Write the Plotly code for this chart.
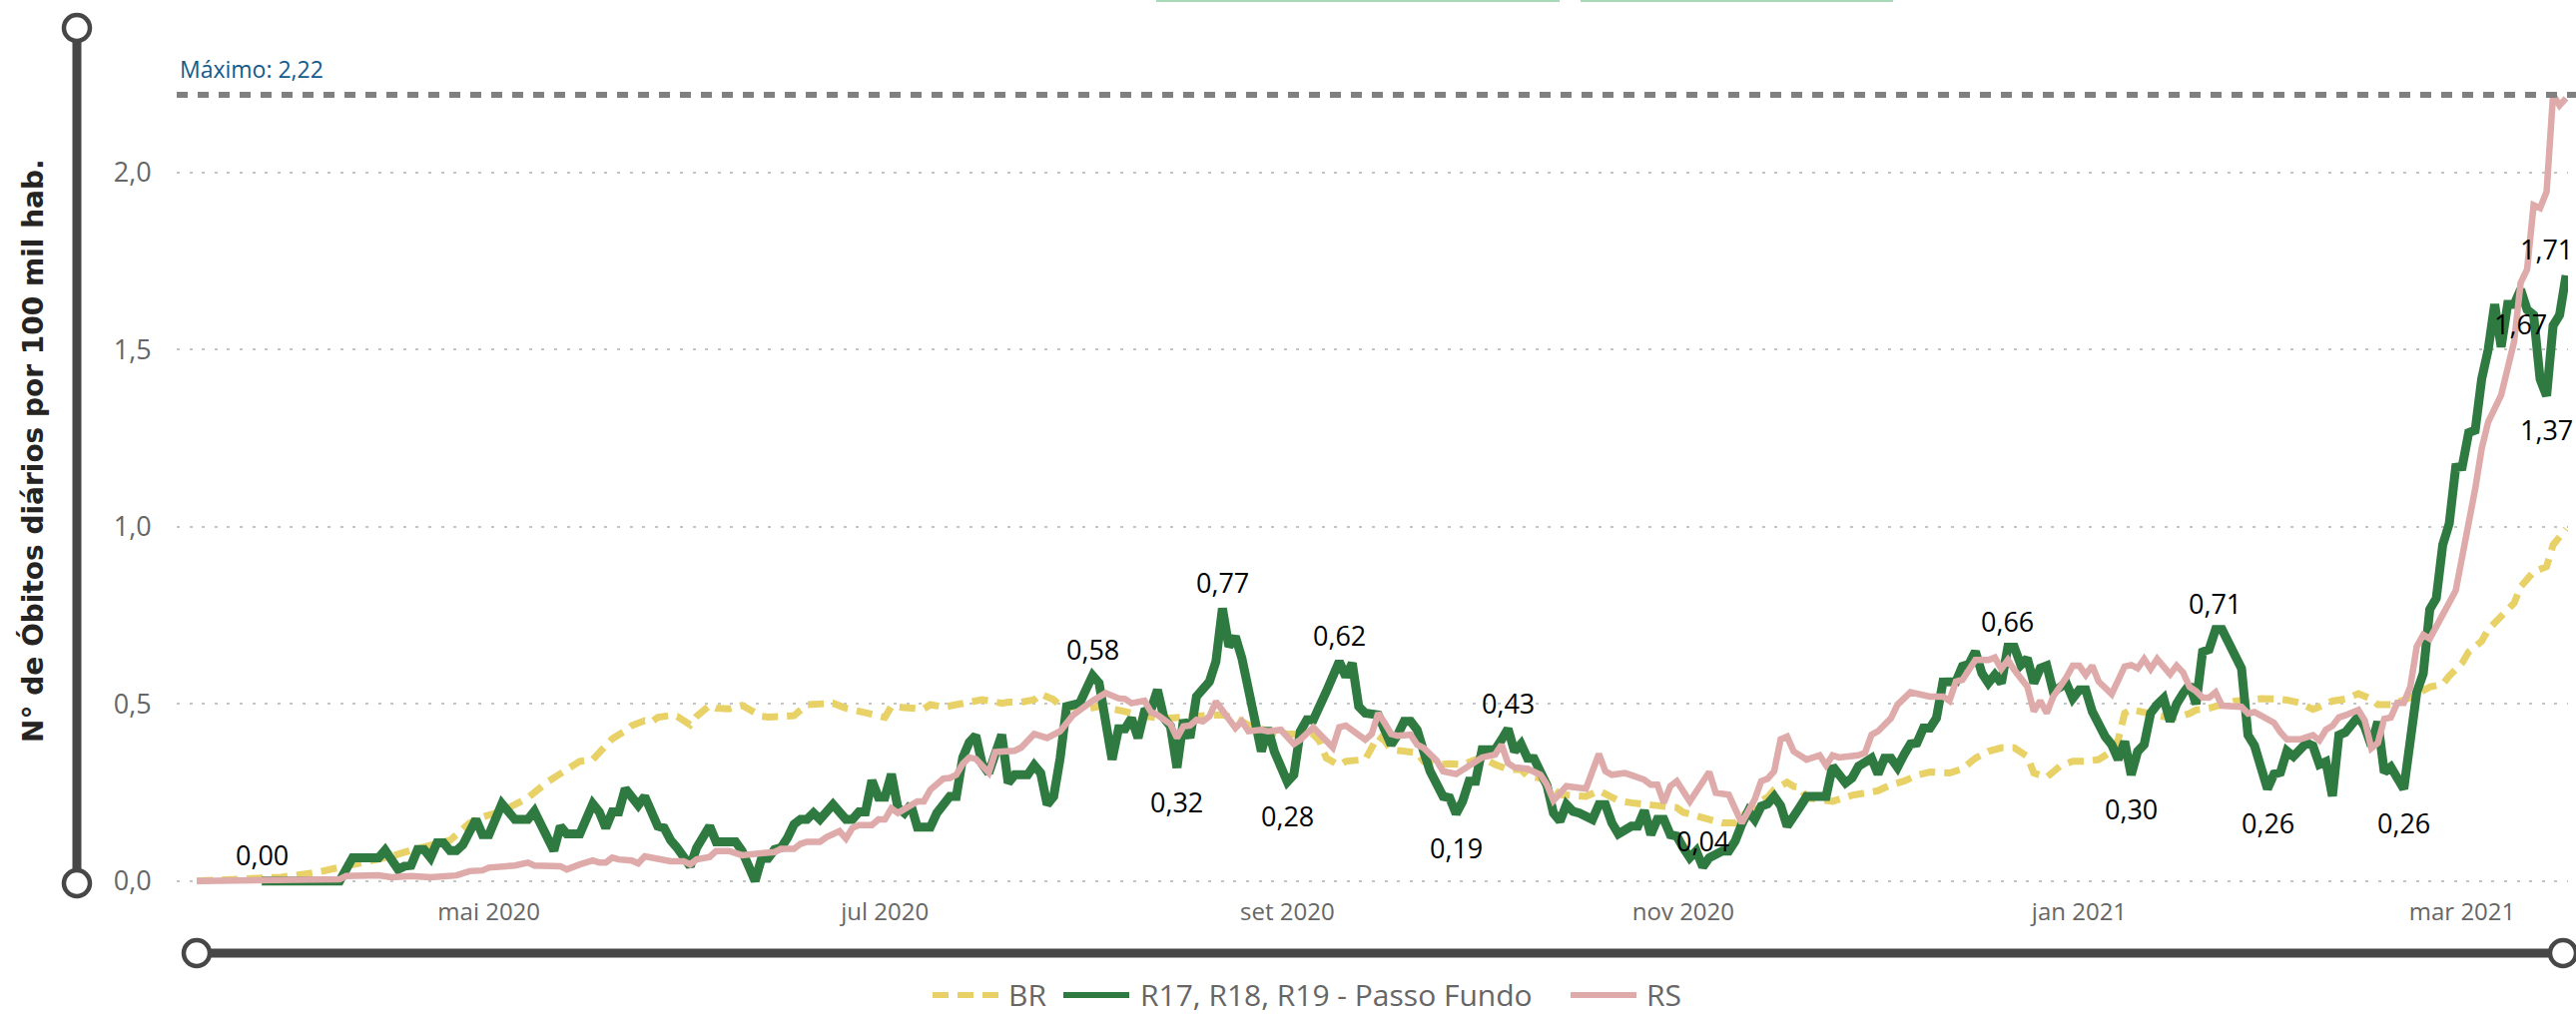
import pandas as pd
import plotly.graph_objects as go

# ---------------- data ----------------
START_DATE = "2020-03-17"   # day 0 of the series

month_ticks = ["2020-05-01", "2020-07-01", "2020-09-01", "2020-11-01", "2021-01-01", "2021-03-01"]
month_labels = ["mai 2020", "jul 2020", "set 2020", "nov 2020", "jan 2021", "mar 2021"]

y_ticks = [0, 0.5, 1.0, 1.5, 2.0]
y_tick_labels = ["0,0", "0,5", "1,0", "1,5", "2,0"]

# BR (days since START_DATE, value)
br_day = [0, 8, 13, 18, 22, 24, 27, 30, 33, 36, 39, 42, 44, 47, 51, 54, 55, 58, 59, 61, 62, 64, 66, 67, 69, 70,
          71, 73, 74, 76, 77, 79, 80, 82, 84, 85, 87, 88, 90, 92, 94, 96, 98, 100, 102, 103, 104, 106, 107, 109,
          112, 113, 115, 117, 119, 121, 122, 124, 125, 127, 129, 130, 132, 133, 135, 137, 139, 141, 143, 145, 146,
          148, 150, 152, 154, 156, 158, 160, 162, 164, 166, 168, 170, 172, 173, 174, 176, 177, 178, 180, 182, 183,
          184, 186, 188, 189, 191, 193, 195, 197, 198, 200, 202, 204, 205, 207, 209, 210, 212, 214, 216, 217, 219,
          221, 223, 226, 228, 229, 231, 233, 235, 237, 238, 240, 242, 243, 245, 246, 247, 248, 250, 252, 255, 258,
          259, 261, 263, 265, 267, 270, 272, 274, 276, 278, 280, 282, 283, 285, 287, 289, 291, 293, 295, 296, 297,
          298, 300, 302, 304, 305, 307, 308, 310, 312, 314, 316, 318, 320, 322, 324, 326, 327, 329, 331, 333, 335,
          336, 338, 340, 341, 344, 346, 347, 349, 350, 352, 353, 355, 357, 358, 360, 362, 363, 365]
br_val = [0.000, 0.005, 0.011, 0.023, 0.038, 0.047, 0.054, 0.070, 0.087, 0.099, 0.115, 0.164, 0.181, 0.197, 0.235,
          0.280, 0.291, 0.327, 0.338, 0.343, 0.362, 0.402, 0.424, 0.439, 0.453, 0.449, 0.462, 0.468, 0.465, 0.441,
          0.465, 0.496, 0.488, 0.486, 0.496, 0.484, 0.465, 0.463, 0.467, 0.467, 0.498, 0.500, 0.502, 0.488, 0.481,
          0.479, 0.471, 0.462, 0.493, 0.490, 0.486, 0.498, 0.491, 0.498, 0.507, 0.512, 0.509, 0.502, 0.505, 0.505,
          0.512, 0.528, 0.512, 0.496, 0.490, 0.486, 0.493, 0.488, 0.479, 0.469, 0.465, 0.460, 0.460, 0.463, 0.468,
          0.468, 0.469, 0.460, 0.441, 0.427, 0.418, 0.415, 0.413, 0.415, 0.394, 0.347, 0.327, 0.338, 0.340, 0.343,
          0.410, 0.396, 0.371, 0.368, 0.362, 0.338, 0.329, 0.331, 0.329, 0.343, 0.349, 0.329, 0.315, 0.315, 0.296,
          0.291, 0.258, 0.244, 0.242, 0.239, 0.255, 0.244, 0.227, 0.221, 0.218, 0.214, 0.207, 0.194, 0.183, 0.174,
          0.164, 0.164, 0.183, 0.216, 0.237, 0.258, 0.279, 0.267, 0.265, 0.235, 0.230, 0.225, 0.242, 0.252, 0.255,
          0.272, 0.282, 0.299, 0.308, 0.305, 0.317, 0.347, 0.366, 0.376, 0.376, 0.352, 0.305, 0.293, 0.324, 0.338,
          0.338, 0.343, 0.366, 0.399, 0.474, 0.484, 0.474, 0.469, 0.460, 0.462, 0.473, 0.483, 0.488, 0.498, 0.508,
          0.511, 0.515, 0.514, 0.511, 0.503, 0.485, 0.492, 0.508, 0.514, 0.529, 0.514, 0.498, 0.498, 0.514, 0.518,
          0.548, 0.556, 0.579, 0.616, 0.647, 0.677, 0.710, 0.749, 0.785, 0.831, 0.873, 0.888, 0.949, 0.994]

# R17, R18, R19 - Passo Fundo
pf_day = [10, 22, 24, 28, 29, 31, 32, 33, 34, 35, 36, 37, 38, 39, 40, 41, 43, 44, 45, 47, 49, 51, 52, 54, 55, 56, 57,
          59, 61, 62, 63, 64, 65, 66, 68, 69, 71, 72, 73, 74, 76, 77, 79, 80, 83, 84, 86, 87, 88, 89, 90, 91, 92, 93,
          94, 95, 96, 98, 100, 101, 102, 103, 104, 105, 106, 107, 108, 109, 110, 111, 113, 114, 116, 117, 118, 119,
          120, 121, 122, 124, 125, 126, 128, 129, 130, 131, 132, 133, 134, 136, 138, 139, 141, 142, 143, 144, 145,
          146, 147, 148, 149, 150, 151, 152, 153, 154, 155, 156, 157, 158, 159, 160, 161, 162, 163, 164, 165, 166,
          168, 169, 170, 171, 172, 174, 176, 177, 178, 179, 180, 182, 184, 185, 186, 187, 188, 189, 190, 192, 193,
          194, 195, 196, 197, 198, 200, 201, 202, 203, 204, 205, 206, 207, 208, 209, 210, 211, 212, 213, 215, 216,
          217, 218, 219, 221, 222, 223, 224, 225, 226, 227, 228, 229, 230, 231, 232, 233, 235, 236, 237, 238, 239,
          240, 241, 242, 243, 244, 245, 247, 248, 251, 252, 254, 255, 256, 258, 259, 260, 261, 262, 263, 264, 265,
          266, 267, 268, 269, 271, 272, 273, 274, 275, 276, 277, 278, 279, 280, 281, 282, 283, 284, 285, 286, 288,
          289, 290, 291, 292, 294, 295, 296, 297, 298, 299, 300, 301, 302, 303, 304, 305, 306, 307, 308, 309, 310,
          311, 312, 314, 315, 316, 317, 319, 320, 321, 322, 323, 324, 325, 326, 327, 328, 329, 330, 331, 333, 334,
          335, 336, 337, 338, 340, 341, 342, 343, 344, 345, 346, 347, 348, 349, 350, 351, 352, 353, 354, 355, 356,
          357, 358, 359, 360, 361, 362, 363, 364, 365]
pf_val = [0.000, 0.000, 0.066, 0.066, 0.087, 0.033, 0.042, 0.044, 0.089, 0.089, 0.066, 0.108, 0.108, 0.086, 0.086,
          0.103, 0.174, 0.131, 0.131, 0.218, 0.174, 0.174, 0.197, 0.113, 0.086, 0.155, 0.133, 0.133, 0.218, 0.195,
          0.150, 0.195, 0.195, 0.261, 0.214, 0.239, 0.155, 0.150, 0.115, 0.094, 0.042, 0.094, 0.155, 0.111, 0.111,
          0.085, 0.000, 0.064, 0.064, 0.089, 0.094, 0.122, 0.160, 0.174, 0.174, 0.192, 0.174, 0.216, 0.174, 0.174,
          0.195, 0.195, 0.284, 0.237, 0.237, 0.302, 0.207, 0.192, 0.216, 0.152, 0.152, 0.192, 0.239, 0.239, 0.349,
          0.392, 0.411, 0.330, 0.305, 0.413, 0.277, 0.300, 0.300, 0.327, 0.305, 0.216, 0.239, 0.347, 0.493, 0.502,
          0.580, 0.559, 0.343, 0.430, 0.430, 0.460, 0.404, 0.479, 0.484, 0.540, 0.460, 0.437, 0.320, 0.455, 0.404,
          0.521, 0.545, 0.563, 0.620, 0.770, 0.662, 0.690, 0.629, 0.554, 0.455, 0.366, 0.432, 0.366, 0.280, 0.300,
          0.423, 0.455, 0.455, 0.535, 0.620, 0.577, 0.615, 0.493, 0.474, 0.469, 0.385, 0.413, 0.451, 0.451, 0.427,
          0.366, 0.310, 0.239, 0.235, 0.190, 0.225, 0.282, 0.282, 0.371, 0.371, 0.399, 0.430, 0.366, 0.387, 0.347,
          0.346, 0.308, 0.270, 0.192, 0.169, 0.216, 0.197, 0.192, 0.174, 0.216, 0.216, 0.164, 0.133, 0.155, 0.155,
          0.199, 0.131, 0.174, 0.174, 0.131, 0.127, 0.094, 0.066, 0.085, 0.040, 0.066, 0.085, 0.085, 0.113, 0.160,
          0.197, 0.174, 0.211, 0.218, 0.239, 0.213, 0.155, 0.210, 0.239, 0.239, 0.324, 0.277, 0.291, 0.324, 0.347,
          0.302, 0.347, 0.347, 0.321, 0.357, 0.387, 0.390, 0.432, 0.432, 0.460, 0.562, 0.563, 0.606, 0.612, 0.648,
          0.587, 0.559, 0.582, 0.559, 0.660, 0.660, 0.610, 0.629, 0.559, 0.601, 0.608, 0.535, 0.559, 0.516, 0.540,
          0.540, 0.479, 0.408, 0.385, 0.343, 0.394, 0.300, 0.366, 0.385, 0.474, 0.498, 0.516, 0.451, 0.500, 0.530,
          0.555, 0.500, 0.647, 0.654, 0.710, 0.710, 0.628, 0.600, 0.412, 0.382, 0.260, 0.302, 0.307, 0.367, 0.352,
          0.375, 0.390, 0.382, 0.329, 0.337, 0.240, 0.412, 0.420, 0.465, 0.435, 0.382, 0.450, 0.307, 0.322, 0.260,
          0.412, 0.533, 0.586, 0.767, 0.798, 0.949, 1.009, 1.168, 1.170, 1.266, 1.273, 1.417, 1.500, 1.628, 1.508,
          1.628, 1.628, 1.670, 1.613, 1.598, 1.417, 1.370, 1.568, 1.598, 1.710]

# RS
rs_day = [0, 22, 23, 28, 30, 33, 36, 40, 42, 44, 45, 49, 51, 52, 56, 57, 59, 61, 62, 63, 64, 65, 67, 68, 69, 71, 73,
          75, 76, 77, 79, 80, 82, 84, 86, 87, 89, 90, 92, 93, 94, 96, 97, 99, 100, 101, 102, 104, 105, 106, 107, 108,
          109, 111, 112, 113, 115, 116, 117, 118, 119, 120, 122, 123, 124, 126, 127, 129, 131, 133, 135, 137, 138,
          140, 142, 143, 144, 146, 147, 148, 149, 150, 151, 152, 153, 154, 155, 156, 157, 159, 160, 161, 162, 164,
          165, 167, 169, 170, 171, 172, 175, 176, 177, 180, 181, 182, 183, 184, 185, 187, 188, 189, 191, 192, 194,
          196, 197, 198, 200, 201, 202, 203, 205, 207, 208, 209, 211, 213, 214, 216, 217, 218, 220, 221, 223, 224,
          225, 226, 227, 228, 229, 230, 233, 234, 236, 237, 238, 240, 241, 242, 243, 244, 245, 246, 247, 248, 250,
          251, 252, 253, 256, 257, 258, 259, 261, 262, 264, 266, 267, 269, 270, 271, 272, 273, 274, 276, 277, 278,
          279, 280, 282, 283, 284, 285, 286, 288, 289, 290, 291, 292, 293, 295, 297, 298, 299, 300, 301, 302, 303,
          304, 305, 306, 307, 308, 309, 310, 311, 312, 315, 316, 317, 319, 320, 321, 322, 324, 325, 326, 327, 328,
          329, 330, 331, 333, 334, 335, 336, 337, 338, 339, 340, 341, 342, 343, 344, 345, 346, 348, 349, 350, 351,
          352, 353, 355, 356, 357, 358, 359, 360, 361, 362, 363, 364, 365]
rs_val = [0.000, 0.005, 0.014, 0.016, 0.011, 0.014, 0.011, 0.016, 0.028, 0.030, 0.038, 0.044, 0.052, 0.044, 0.042,
          0.033, 0.047, 0.058, 0.052, 0.052, 0.066, 0.061, 0.058, 0.050, 0.070, 0.064, 0.056, 0.056, 0.047, 0.061,
          0.068, 0.085, 0.085, 0.073, 0.077, 0.080, 0.082, 0.091, 0.091, 0.105, 0.111, 0.111, 0.124, 0.141, 0.120,
          0.150, 0.158, 0.158, 0.174, 0.174, 0.205, 0.192, 0.202, 0.225, 0.225, 0.258, 0.289, 0.291, 0.300, 0.331,
          0.349, 0.345, 0.306, 0.364, 0.366, 0.368, 0.377, 0.415, 0.404, 0.423, 0.469, 0.498, 0.509, 0.531, 0.516,
          0.514, 0.502, 0.509, 0.477, 0.469, 0.455, 0.443, 0.404, 0.437, 0.439, 0.455, 0.451, 0.465, 0.507, 0.455,
          0.432, 0.451, 0.423, 0.427, 0.423, 0.427, 0.387, 0.399, 0.415, 0.434, 0.377, 0.434, 0.439, 0.399, 0.415,
          0.474, 0.446, 0.415, 0.410, 0.413, 0.385, 0.376, 0.340, 0.310, 0.302, 0.324, 0.340, 0.349, 0.357, 0.385,
          0.333, 0.321, 0.317, 0.300, 0.272, 0.227, 0.268, 0.265, 0.261, 0.359, 0.310, 0.300, 0.305, 0.299, 0.286,
          0.272, 0.272, 0.221, 0.268, 0.282, 0.249, 0.225, 0.308, 0.249, 0.244, 0.202, 0.164, 0.230, 0.282, 0.289,
          0.310, 0.400, 0.408, 0.366, 0.355, 0.343, 0.355, 0.327, 0.355, 0.349, 0.355, 0.362, 0.413, 0.423, 0.460,
          0.498, 0.533, 0.528, 0.521, 0.521, 0.509, 0.563, 0.568, 0.596, 0.624, 0.624, 0.631, 0.599, 0.624, 0.596,
          0.549, 0.479, 0.509, 0.474, 0.521, 0.575, 0.608, 0.608, 0.582, 0.608, 0.563, 0.528, 0.606, 0.610, 0.601,
          0.627, 0.599, 0.627, 0.603, 0.584, 0.608, 0.589, 0.548, 0.536, 0.518, 0.518, 0.533, 0.495, 0.492, 0.473,
          0.477, 0.458, 0.447, 0.420, 0.400, 0.400, 0.408, 0.412, 0.397, 0.427, 0.438, 0.462, 0.468, 0.483, 0.453,
          0.375, 0.390, 0.458, 0.462, 0.503, 0.503, 0.548, 0.662, 0.695, 0.684, 0.715, 0.752, 0.820, 0.911, 1.024,
          1.107, 1.221, 1.296, 1.372, 1.440, 1.523, 1.689, 1.727, 1.908, 1.900, 1.946, 2.220, 2.190, 2.210]

# data labels shown on the Passo Fundo series (day, side)
label_day = [10, 138, 151, 158, 168, 176, 194, 202, 232, 279, 298, 311, 319, 340, 358, 362, 365]
label_side = ["above", "above", "below", "above", "below", "above", "below", "above", "above", "above",
              "below", "above", "below", "below", "below", "below", "above"]

# ---------------- styling / geometry ----------------
FIG_W, FIG_H = 2580, 1018
PLOT_L, PLOT_R, PLOT_T, PLOT_B = 177, 2572, 31, 897
Y_MIN, Y_MAX = -0.04, 2.4
X_PAD_L, X_PAD_R = 3.1, 0.3

COL_BR = "#E8D166"
COL_PF = "#2F7A40"
COL_RS = "#DEAAAA"
COL_SLIDER = "#474747"
FONT_UI = "Segoe UI, Open Sans, sans-serif"

start = pd.Timestamp(START_DATE)


def to_dates(days):
    return [(start + pd.Timedelta(days=d)).strftime("%Y-%m-%d") for d in days]


def px(x):
    return (x - PLOT_L) / (PLOT_R - PLOT_L)


def py(y):
    return (PLOT_B - y) / (PLOT_B - PLOT_T)


def fmt(v):
    return f"{v:.2f}".replace(".", ",")


series = [
    dict(name="BR", days=br_day, vals=br_val, color=COL_BR, width=7, dash="16px,9px"),
    dict(name="R17, R18, R19 - Passo Fundo", days=pf_day, vals=pf_val, color=COL_PF, width=9, dash="solid"),
    dict(name="RS", days=rs_day, vals=rs_val, color=COL_RS, width=6.5, dash="solid"),
]

fig = go.Figure()
for s in series:
    fig.add_trace(go.Scatter(
        x=to_dates(s["days"]), y=s["vals"], mode="lines", name=s["name"],
        line=dict(color=s["color"], width=s["width"], dash=s["dash"]),
        showlegend=False, hoverinfo="skip",
    ))

x_range = [(start - pd.Timedelta(days=X_PAD_L)).strftime("%Y-%m-%d %H:%M"),
           (start + pd.Timedelta(days=max(pf_day) + X_PAD_R)).strftime("%Y-%m-%d %H:%M")]

max_val = max(max(br_val), max(pf_val), max(rs_val))

shapes = []
# max reference line
shapes.append(dict(type="line", xref="paper", yref="y", x0=0, x1=px(FIG_W), y0=max_val, y1=max_val,
                   line=dict(color="#808080", width=6, dash="11px,10px"), layer="above"))
# slider decorations
shapes.append(dict(type="line", xref="paper", yref="paper", x0=px(77), x1=px(77), y0=py(28), y1=py(885),
                   line=dict(color=COL_SLIDER, width=9)))
shapes.append(dict(type="line", xref="paper", yref="paper", x0=px(197), x1=px(2567), y0=py(955), y1=py(955),
                   line=dict(color=COL_SLIDER, width=9)))
for cx, cy in [(77, 28), (77, 885), (197, 955), (2567, 955)]:
    shapes.append(dict(type="circle", xref="paper", yref="paper", xsizemode="pixel", ysizemode="pixel",
                       xanchor=px(cx), yanchor=py(cy), x0=-13, x1=13, y0=-13, y1=13,
                       line=dict(color=COL_SLIDER, width=4.5), fillcolor="white", layer="above"))
# thin green strips at the top edge
for a, b in [(1158, 1562), (1583, 1896)]:
    shapes.append(dict(type="line", xref="paper", yref="paper", x0=px(a), x1=px(b), y0=py(1), y1=py(1),
                       line=dict(color="#A8D8B8", width=2)))

annotations = []
annotations.append(dict(text="<b>N° de Óbitos diários por 100 mil hab.</b>", xref="paper", yref="paper",
                        x=px(33), y=py(452), textangle=-90, showarrow=False,
                        font=dict(family="DejaVu Sans", size=28, color="#252423"),
                        xanchor="center", yanchor="middle"))
annotations.append(dict(text=f"Máximo: {fmt(max_val)}", xref="paper", yref="y", x=px(178), y=max_val,
                        yshift=26, xanchor="left", yanchor="middle", showarrow=False,
                        font=dict(family=FONT_UI, size=23, color="#125B8C")))
for i, (d, side) in enumerate(zip(label_day, label_side)):
    v = pf_val[pf_day.index(d)]
    annotations.append(dict(text=fmt(v), x=to_dates([d])[0], y=v, xref="x", yref="y", showarrow=False,
                            xanchor="center", yanchor="middle",
                            yshift=26 if side == "above" else -34,
                            xshift=-20 if d == max(pf_day) else 0,
                            font=dict(family=FONT_UI, size=27, color="#000000")))

# custom legend (long symbols like the original)
legend_sym_x = [934, 1065, 1573]
legend_txt_x = [1008, 1140, 1647]
LEG_Y = 997
for s, sx, tx in zip(series, legend_sym_x, legend_txt_x):
    shapes.append(dict(type="line", xref="paper", yref="paper", x0=px(sx), x1=px(sx + 66), y0=py(LEG_Y),
                       y1=py(LEG_Y), line=dict(color=s["color"], width=6, dash=s["dash"])))
    annotations.append(dict(text=s["name"], xref="paper", yref="paper", x=px(tx), y=py(LEG_Y),
                            xanchor="left", yanchor="middle", showarrow=False,
                            font=dict(family=FONT_UI, size=30, color="#666666")))

fig.update_layout(
    width=FIG_W, height=FIG_H,
    margin=dict(l=PLOT_L, r=FIG_W - PLOT_R, t=PLOT_T, b=FIG_H - PLOT_B, pad=0),
    paper_bgcolor="white", plot_bgcolor="white",
    font=dict(family=FONT_UI, color="#666666"),
    showlegend=False,
    shapes=shapes, annotations=annotations,
    xaxis=dict(type="date", range=x_range, tickvals=month_ticks, ticktext=month_labels,
               showgrid=False, zeroline=False, showline=False, ticks="",
               tickfont=dict(family=FONT_UI, size=24, color="#666666")),
    yaxis=dict(range=[Y_MIN, Y_MAX], tickvals=y_ticks, ticktext=y_tick_labels,
               showgrid=True, gridcolor="#C4C4C4", gridwidth=2, griddash="3px,9.6px",
               zeroline=False, showline=False, ticks="outside", ticklen=19, tickcolor="rgba(0,0,0,0)",
               tickfont=dict(family=FONT_UI, size=27, color="#666666")),
)

fig.write_html("out.html", config={"displayModeBar": False},
               post_script="document.body.style.margin='0';document.body.style.overflow='hidden';")
